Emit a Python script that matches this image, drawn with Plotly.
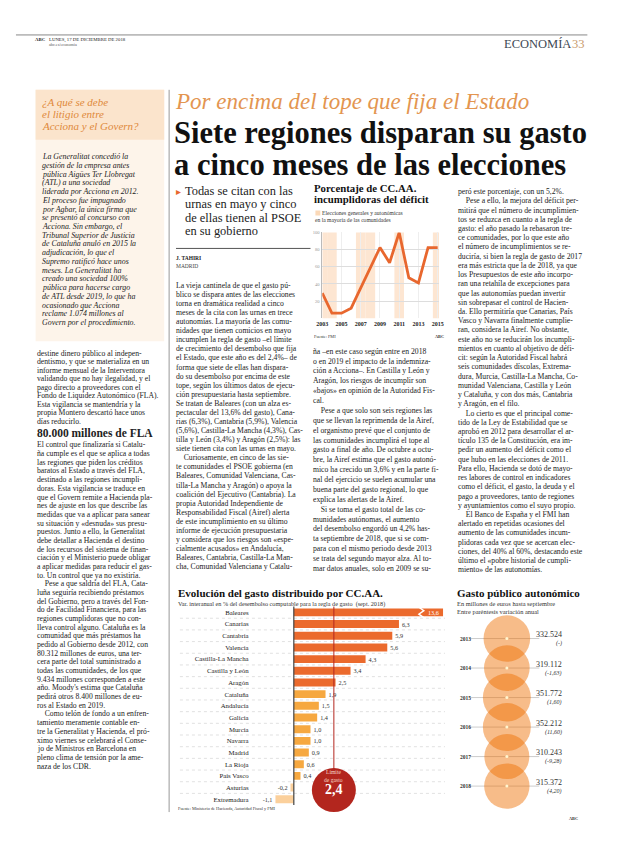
import plotly.graph_objects as go

# la página añade 8 px de margen al body: se trabaja en píxeles de página
OFF = 8
W, H = 620 - 2 * OFF, 846 - 2 * OFF
SERIF = "Liberation Serif"

# ---- datos: porcentaje de CC.AA. incumplidoras del déficit ----
years_def = [2003, 2004, 2005, 2006, 2007, 2008, 2009, 2010, 2011, 2012, 2013, 2014, 2015]
pct_incumplidoras = [29.4, 5.9, 5.9, 11.8, 35.3, 58.8, 82.4, 64.7, 100, 47.1, 41.2, 82.4, 82.4]
election_years = [2003, 2004, 2007, 2008, 2011, 2015]

# ---- datos: evolución del gasto por CC.AA. ----
regiones = ["Baleares", "Canarias", "Cantabria", "Valencia", "Castilla-La Mancha",
            "Castilla y León", "Aragón", "Cataluña", "Andalucía", "Galicia", "Murcia",
            "Navarra", "Madrid", "La Rioja", "País Vasco", "Asturias", "Extremadura"]
var_gasto = [13.6, 6.3, 5.9, 5.6, 4.3, 3.4, 2.5, 1.9, 1.5, 1.4, 1.0, 1.0, 0.9, 0.6, 0.4, -0.2, -1.1]
limite_gasto = 2.4

# ---- datos: gasto público autonómico ----
years_gasto = [2013, 2014, 2015, 2016, 2017, 2018]
gasto_total = [332524, 319112, 351772, 352212, 310243, 315372]
var_anual = ["-", "-1,63", "1,60", "11,60", "-9,28", "4,20"]


def X(p):
    return (p - OFF) / W


def Y(p):
    return 1 - (p - OFF) / H


def es(v):
    return f"{v:.1f}".replace(".", ",")


def miles(v):
    return f"{v:,}".replace(",", ".")


annotations = []
shapes = []


def txt(s, x, y, size, color="#222", anchor="left", family=SERIF):
    annotations.append(dict(x=X(x), y=Y(y), xref="paper", yref="paper", text=s,
                            showarrow=False, xanchor=anchor, yanchor="middle", borderpad=0,
                            font=dict(family=family, size=size, color=color)))


def block(lines, x, y0, dy, size, color="#222", fmt="{}"):
    for i, l in enumerate(lines):
        txt(fmt.format(l), x, y0 + i * dy, size, color)


IND = "\u2002\u2002"

# ---------------- cabecera ----------------
shapes.append(dict(type="line", xref="paper", yref="paper", x0=X(10), x1=X(592), y0=Y(33), y1=Y(33),
                   line=dict(color="#888", width=1)))
txt("<b>ABC</b>", 28, 38, 4.8)
txt("LUNES, 17 DE DICIEMBRE DE 2018", 43, 38, 4.8)
txt("abc.es/economia", 43, 43, 4.2, "#555")
txt("ECONOMÍA", 576, 42, 12.5, "#3d4954", anchor="right")
txt("33", 591, 42, 12.5, "#c99a6a", anchor="right")

# ---------------- recuadro lateral ----------------
shapes.append(dict(type="rect", xref="paper", yref="paper", x0=X(30), x1=X(161), y0=Y(88), y1=Y(340),
                   fillcolor="#fdf4ea", line=dict(width=0), layer="below"))
shapes.append(dict(type="rect", xref="paper", yref="paper", x0=X(30), x1=X(161), y0=Y(88), y1=Y(138),
                   fillcolor="#fbe4cc", line=dict(width=0), layer="below"))
block(["¿A qué se debe", "el litigio entre", "Acciona y el Govern?"], 35, 100, 12, 11, "#e0893a", "<i>{}</i>")
block(["La Generalitat concedió la", "gestión de la empresa antes", "pública Aigües Ter Llobregat",
       "(ATL) a una sociedad", "liderada por Acciona en 2012.", "El proceso fue impugnado",
       "por Agbar, la única firma que", "se presentó al concurso con", "Acciona. Sin embargo, el",
       "Tribunal Superior de Justicia", "de Cataluña anuló en 2015 la", "adjudicación, lo que el",
       "Supremo ratificó hace unos", "meses. La Generalitat ha", "creado una sociedad 100%",
       "pública para hacerse cargo", "de ATL desde 2019, lo que ha", "ocasionado que Acciona",
       "reclame 1.074 millones al", "Govern por el procedimiento."],
      36, 155, 8.75, 7.9, "#222", "<i>{}</i>")

shapes.append(dict(type="line", xref="paper", yref="paper", x0=X(166), x1=X(166), y0=Y(88), y1=Y(812),
                   line=dict(color="#999", width=1)))

# ---------------- columna izquierda ----------------
block(["destine dinero público al indepen-", "dentismo, y que se materializa en un",
       "informe mensual de la Interventora", "validando que no hay ilegalidad, y el",
       "pago directo a proveedores con el", "Fondo de Liquidez Autonómico (FLA).",
       "Esta vigilancia se mantendría y la", "propia Montero descartó hace unos", "días reducirlo."],
      30, 352, 8.5, 7.7)
txt("<b>80.000 millones de FLA</b>", 30, 432, 11.5)
block(["El control que finalizaría si Catalu-", "ña cumple es el que se aplica a todas",
       "las regiones que piden los créditos", "baratos al Estado a través del FLA,",
       "destinado a las regiones incumpli-", "doras. Esta vigilancia se traduce en",
       "que el Govern remite a Hacienda pla-", "nes de ajuste en los que describe las",
       "medidas que va a aplicar para sanear", "su situación y «desnuda» sus presu-",
       "puestos. Junto a ello, la Generalitat", "debe detallar a Hacienda el destino",
       "de los recursos del sistema de finan-", "ciación y el Ministerio puede obligar",
       "a aplicar medidas para reducir el gas-", "to. Un control que ya no existiría.",
       IND + "Pese a que saldría del FLA, Cata-", "luña seguiría recibiendo préstamos",
       "del Gobierno, pero a través del Fon-", "do de Facilidad Financiera, para las",
       "regiones cumplidoras que no con-", "lleva control alguno. Cataluña es la",
       "comunidad que más préstamos ha", "pedido al Gobierno desde 2012, con",
       "80.312 millones de euros, una ter-", "cera parte del total suministrado a",
       "todas las comunidades, de los que", "9.434 millones corresponden a este",
       "año. Moody's estima que Cataluña", "pedirá otros 8.400 millones de eu-",
       "ros al Estado en 2019.", IND + "Como telón de fondo a un enfren-",
       "tamiento meramente contable en-", "tre la Generalitat y Hacienda, el pró-",
       "ximo viernes se celebrará el Conse-", "jo de Ministros en Barcelona en",
       "pleno clima de tensión por la ame-", "naza de los CDR."],
      30, 444, 8.7, 7.7)

# ---------------- titulares ----------------
txt("<i>Por encima del tope que fija el Estado</i>", 171, 100, 23, "#e39550")
txt("<b>Siete regiones disparan su gasto</b>", 170, 131, 30.5, "#111")
txt("<b>a cinco meses de las elecciones</b>", 170, 163, 30.5, "#111")

# ---------------- columna 2 ----------------
txt("<span style='color:#e8672e'>▸</span>", 172, 190, 10)
block(["Todas se citan con las", "urnas en mayo y cinco", "de ellas tienen al PSOE", "en su gobierno"],
      181, 189.5, 13.3, 12.4, "#222")
shapes.append(dict(type="line", xref="paper", yref="paper", x0=X(173), x1=X(310), y0=Y(247), y1=Y(247),
                   line=dict(color="#555", width=1)))
txt("<b>J. TAHIRI</b>", 172, 257, 5.5)
txt("MADRID", 172, 265, 5.5, "#444")
block(["La vieja cantinela de que el gasto pú-", "blico se dispara antes de las elecciones",
       "torna en dramática realidad a cinco", "meses de la cita con las urnas en trece",
       "autonomías. La mayoría de las comu-", "nidades que tienen comicios en mayo",
       "incumplen la regla de gasto –el límite", "de crecimiento del desembolso que fija",
       "el Estado, que este año es del 2,4%– de", "forma que siete de ellas han dispara-",
       "do su desembolso por encima de este", "tope, según los últimos datos de ejecu-",
       "ción presupuestaria hasta septiembre.", "Se tratan de Baleares (con un alza es-",
       "pectacular del 13,6% del gasto), Cana-", "rias (6,3%), Cantabria (5,9%), Valencia",
       "(5,6%), Castilla-La Mancha (4,3%), Cas-", "tilla y León (3,4%) y Aragón (2,5%): las",
       "siete tienen cita con las urnas en mayo.", IND + "Curiosamente, en cinco de las sie-",
       "te comunidades el PSOE gobierna (en", "Baleares, Comunidad Valenciana, Cas-",
       "tilla-La Mancha y Aragón) o apoya la", "coalición del Ejecutivo (Cantabria). La",
       "propia Autoridad Independiente de", "Responsabilidad Fiscal (Airef) alerta",
       "de este incumplimiento en su último", "informe de ejecución presupuestaria",
       "y considera que los riesgos son «espe-", "cialmente acusados» en Andalucía,",
       "Baleares, Cantabria, Castilla-La Man-", "cha, Comunidad Valenciana y Catalu-"],
      172, 284, 9.1, 7.7)

# ---------------- columna 3 ----------------
block(["ña –en este caso según entre en 2018", "o en 2019 el impacto de la indemniza-",
       "ción a Acciona–. En Castilla y León y", "Aragón, los riesgos de incumplir son",
       "«bajos» en opinión de la Autoridad Fis-", "cal.",
       IND + "Pese a que solo son seis regiones las", "que se llevan la reprimenda de la Airef,",
       "el organismo prevé que el conjunto de", "las comunidades incumplirá el tope al",
       "gasto a final de año. De octubre a octu-", "bre, la Airef estima que el gasto autonó-",
       "mico ha crecido un 3,6% y en la parte fi-", "nal del ejercicio se suelen acumular una",
       "buena parte del gasto regional, lo que", "explica las alertas de la Airef.",
       IND + "Si se toma el gasto total de las co-", "munidades autónomas, el aumento",
       "del desembolso engordó un 4,2% has-", "ta septiembre de 2018, que si se com-",
       "para con el mismo periodo desde 2013", "se trata del segundo mayor alza. Al to-",
       "mar datos anuales, solo en 2009 se su-"],
      312, 350, 9.9, 7.7)

# ---------------- columna 4 ----------------
block(["peró este porcentaje, con un 5,2%.", IND + "Pese a ello, la mejora del déficit per-",
       "mitirá que el número de incumplimien-", "tos se reduzca en cuanto a la regla de",
       "gasto: el año pasado la rebasaron tre-", "ce comunidades, por lo que este año",
       "el número de incumplimientos se re-", "duciría, si bien la regla de gasto de 2017",
       "era más estricta que la de 2018, ya que", "los Presupuestos de este año incorpo-",
       "ran una retahíla de excepciones para", "que las autonomías puedan invertir",
       "sin sobrepasar el control de Hacien-", "da. Ello permitiría que Canarias, País",
       "Vasco y Navarra finalmente cumplie-", "ran, considera la Airef. No obstante,",
       "este año no se reducirán los incumpli-", "mientos en cuanto al objetivo de défi-",
       "cit: según la Autoridad Fiscal habrá", "seis comunidades díscolas, Extrema-",
       "dura, Murcia, Castilla-La Mancha, Co-", "munidad Valenciana, Castilla y León",
       "y Cataluña, y con dos más, Cantabria", "y Aragón, en el filo.",
       IND + "Lo cierto es que el principal come-", "tido de la Ley de Estabilidad que se",
       "aprobó en 2012 para desarrollar el ar-", "tículo 135 de la Constitución, era im-",
       "pedir un aumento del déficit como el", "que hubo en las elecciones de 2011.",
       "Para ello, Hacienda se dotó de mayo-", "res labores de control en indicadores",
       "como el déficit, el gasto, la deuda y el", "pago a proveedores, tanto de regiones",
       "y ayuntamientos como el suyo propio.", IND + "El Banco de España y el FMI han",
       "alertado en repetidas ocasiones del", "aumento de las comunidades incum-",
       "plidoras cada vez que se acercan elec-", "ciones, del 40% al 60%, destacando este",
       "último el «pobre historial de cumpli-", "miento» de las autonomías."],
      459, 190, 9.25, 7.7)

# ---------------- gráfico de líneas ----------------
txt("<b>Porcentaje de CC.AA.</b>", 313, 186, 10.8, "#111")
txt("<b>incumplidoras del déficit</b>", 313, 197.5, 10.8, "#111")
shapes.append(dict(type="rect", xref="paper", yref="paper", x0=X(315), x1=X(320), y0=Y(209), y1=Y(214),
                   fillcolor="#fbd9b8", line=dict(width=0)))
txt("Elecciones generales y autonómicas", 321, 211.5, 5.6, "#333")
txt("en la mayoría de las comunidades", 314, 218.5, 5.6, "#333")
for ey in election_years:
    shapes.append(dict(type="rect", xref="x", yref="y domain", x0=max(ey - 0.5, 2003), x1=min(ey + 0.5, 2015.15),
                       y0=0, y1=1, fillcolor="#fde6d2", line=dict(width=0), layer="below"))
txt("Fuente: FMI", 313, 335, 4.3, "#333")
txt("<b>ABC</b>", 447, 335, 4.3, "#333", anchor="right")

fig = go.Figure()
fig.add_trace(go.Scatter(x=years_def, y=pct_incumplidoras, mode="lines", line=dict(color="#e8672e", width=2.8),
                         xaxis="x", yaxis="y", cliponaxis=False, showlegend=False))

# ---------------- gráfico de barras ----------------
zero_px, unit_px = 293, 17.0
bar_colors = ["#eb6a2d" if v > limite_gasto else ("#f6a840" if v >= 0 else "#fbd09c") for v in var_gasto]
text_pos = ["none"] + ["outside"] * (len(var_gasto) - 1)
fig.add_trace(go.Bar(y=regiones, x=var_gasto, orientation="h", marker=dict(color=bar_colors, line=dict(width=0)),
                     text=[es(v) for v in var_gasto], textposition=text_pos,
                     textfont=dict(family=SERIF, size=6.2, color="#333"), cliponaxis=True,
                     width=0.68, xaxis="x2", yaxis="y2", showlegend=False))
txt("<b>Evolución del gasto distribuido por CC.AA.</b>", 174, 592, 11, "#111")
txt("Var. interanual en % del desembolso computable para la regla de gasto  (sept. 2018)", 174, 603, 6.2, "#333")
for i in range(len(regiones) - 1):
    shapes.append(dict(type="line", xref="paper", yref="y2", x0=X(177), x1=X(447), y0=i + 0.5, y1=i + 0.5,
                       line=dict(color="#ccc", width=0.6, dash="dot"), layer="below"))
shapes.append(dict(type="line", xref="x2", yref="y2 domain", x0=0, x1=0, y0=0, y1=1,
                   line=dict(color="#444", width=1.2)))
shapes.append(dict(type="line", xref="x2", yref="paper", x0=limite_gasto, x1=limite_gasto, y0=Y(606), y1=Y(770),
                   line=dict(color="#b3261e", width=1)))
shapes.append(dict(type="circle", xref="x2", yref="paper", xsizemode="pixel", ysizemode="pixel",
                   xanchor=limite_gasto, yanchor=Y(790), x0=-22, x1=22, y0=-22, y1=22,
                   fillcolor="#b3261e", line=dict(width=0)))
x_max = (445 - zero_px) / unit_px
# rotura de la barra de Baleares
brk = x_max - 1.45
shapes.append(dict(type="path", xref="x2", yref="y2",
                   path=f"M {brk},-0.45 L {brk + 0.3},-0.15 L {brk},0.15 L {brk + 0.3},0.45",
                   line=dict(color="white", width=1.4)))
annotations.append(dict(x=x_max - 0.15, y=regiones[0], xref="x2", yref="y2", text=es(var_gasto[0]),
                        showarrow=False, xanchor="right", font=dict(family=SERIF, size=6.2, color="white")))
for lab, yy, sz in [("Límite", 776, 5.6), ("de gasto", 783.5, 5.6)]:
    annotations.append(dict(x=limite_gasto, y=Y(yy), xref="x2", yref="paper", text=lab, showarrow=False,
                            borderpad=0, font=dict(family=SERIF, size=sz, color="#f6d7c8")))
annotations.append(dict(x=limite_gasto, y=Y(798), xref="x2", yref="paper", text="<b>" + es(limite_gasto) + "</b>",
                        showarrow=False, borderpad=0, font=dict(family=SERIF, size=14, color="white")))
txt("Fuente: Ministerio de Hacienda, Autoridad Fiscal y FMI", 174, 809, 4.3, "#333")

# ---------------- gráfico de burbujas ----------------
txt("<b>Gasto público autonómico</b>", 458, 592, 11, "#111")
txt("En millones de euros hasta septiembre", 458, 603, 6.4, "#333")
txt("Entre paréntesis variación anual", 458, 611, 6.4, "#333")
max_d = 48
fig.add_trace(go.Scatter(x=[0] * len(years_gasto), y=years_gasto, mode="markers",
                         marker=dict(size=gasto_total, sizemode="area", sizeref=2 * max(gasto_total) / max_d ** 2,
                                     color="rgba(238,110,0,0.66)", line=dict(width=0)),
                         xaxis="x3", yaxis="y3", showlegend=False, cliponaxis=False))
fig.add_trace(go.Scatter(x=[0] * len(years_gasto), y=years_gasto, mode="markers",
                         marker=dict(size=3, color="#fff6d0"), xaxis="x3", yaxis="y3", showlegend=False))
for yr, tot, va in zip(years_gasto, gasto_total, var_anual):
    shapes.append(dict(type="line", xref="paper", yref="y3", x0=X(472), x1=X(543), y0=yr, y1=yr,
                       line=dict(color="#aaa", width=0.6), layer="below"))
    annotations.append(dict(x=X(460), y=yr, xref="paper", yref="y3", text=f"<b>{yr}</b>", showarrow=False,
                            xanchor="left", font=dict(family=SERIF, size=5.5, color="#333")))
    annotations.append(dict(x=X(567), y=yr, xref="paper", yref="y3", yshift=4, text=miles(tot), showarrow=False,
                            borderpad=0, font=dict(family=SERIF, size=8, color="#333")))
    annotations.append(dict(x=X(567), y=yr, xref="paper", yref="y3", yshift=-5, text=f"<i>({va})</i>",
                            showarrow=False, borderpad=0, font=dict(family=SERIF, size=6, color="#333")))
txt("<b>ABC</b>", 583, 818, 4.3, "#333", anchor="right")

# ---------------- ejes ----------------
fig.update_layout(
    width=W, height=H, margin=dict(l=0, r=0, t=0, b=0),
    paper_bgcolor="white", plot_bgcolor="rgba(0,0,0,0)",
    font=dict(family=SERIF, color="#222"),
    annotations=annotations, shapes=shapes, bargap=0.3,
    xaxis=dict(domain=[X(322), X(441)], range=[2003, 2015.15], tickvals=list(range(2003, 2016, 2)),
               ticks="", showgrid=True, gridcolor="#eee", gridwidth=0.5, zeroline=False, showline=False,
               tickfont=dict(family=SERIF, size=6, color="#222", weight="bold"), ticklabelstandoff=1,
               fixedrange=True),
    yaxis=dict(domain=[Y(317), Y(231)], range=[0, 100], tickvals=[20, 40, 60, 80, 100], ticks="",
               showgrid=True, gridcolor="#ddd", gridwidth=0.6, zeroline=False,
               showline=True, linecolor="#bbb", linewidth=0.6,
               tickfont=dict(family=SERIF, size=4.6, color="#999"), ticklabelstandoff=1),
    xaxis2=dict(domain=[X(251), X(445)], range=[-(zero_px - 251) / unit_px, x_max], visible=False),
    yaxis2=dict(domain=[Y(805), Y(606)], type="category", categoryorder="array", categoryarray=regiones,
                range=[len(regiones) - 0.5, -0.5], ticks="", showgrid=False, zeroline=False, anchor="x2",
                tickfont=dict(family=SERIF, size=6.8, color="#222"), ticklabelstandoff=3),
    xaxis3=dict(domain=[X(458), X(612)], range=[-52, 102], visible=False),
    yaxis3=dict(domain=[Y(812), Y(620)], range=[2018.88, 2012.39], visible=False, anchor="x3"),
)

fig.write_html("out.html")
